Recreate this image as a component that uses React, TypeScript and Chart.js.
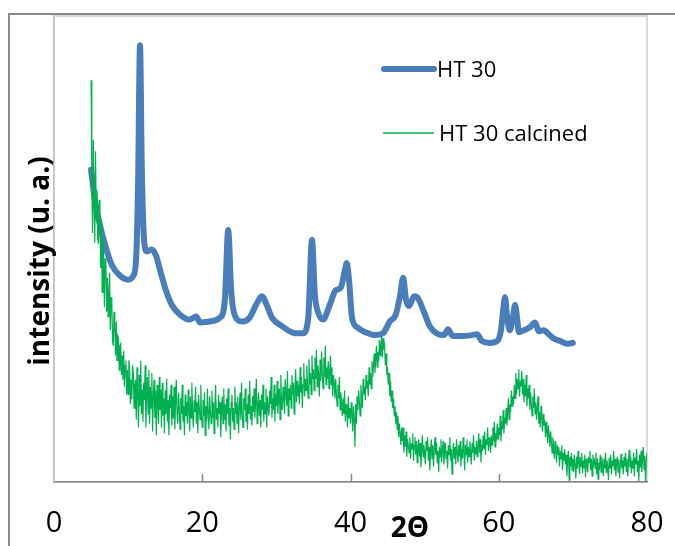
import React, { useEffect, useRef } from "react";
import { Chart, registerables } from "chart.js";

Chart.register(...registerables);

// ---- axis setup ----
const X_MIN = 0;
const X_MAX = 80;
const X_STEP = 20;
const Y_MIN = 0;
const Y_MAX = 4790;
const Y_STEP = 1000;

const Y_TITLE = "intensity (u. a.)";
const X_TITLE = "2Θ";
const LEGEND_LABELS = ["HT 30", "HT 30 calcined"];

// ---- HT 30 (blue) ----
const HT30_ANGLE = [
  5.0, 5.5, 6.2, 7.0, 7.8, 8.9, 10.0, 10.7, 11.1, 11.35,
  11.6, 11.85, 12.15, 12.55, 13.2, 13.8, 14.3, 15.1, 15.9, 17.0,
  18.3, 19.2, 19.7, 21.0, 22.4, 23.05, 23.5, 23.9, 24.4, 25.4,
  26.4, 27.25, 28.05, 28.7, 29.4, 30.8, 32.5, 33.6, 34.3, 34.8,
  35.2, 35.6, 36.3, 37.2, 38.0, 38.7, 39.25, 39.5, 39.8, 40.2,
  40.9, 42.0, 43.3, 44.4, 45.3, 46.1, 46.7, 47.1, 47.5, 47.9,
  48.6, 49.1, 49.9, 50.7, 51.8, 52.6, 53.15, 53.8, 55.0, 56.4,
  57.1, 57.7, 58.8, 59.8, 60.3, 60.6, 60.85, 61.1, 61.5, 61.9,
  62.2, 62.5, 62.7, 63.4, 64.2, 64.9, 65.4, 66.1, 66.6, 67.3,
  68.3, 69.2, 70.0,
];
const HT30_INTENSITY = [
  3210, 2900, 2640, 2410, 2230, 2120, 2080, 2120, 2330, 3100,
  4490, 3210, 2490, 2370, 2390, 2320, 2180, 1970, 1820, 1720,
  1670, 1700, 1640, 1650, 1690, 1870, 2590, 1970, 1710, 1650,
  1690, 1820, 1910, 1820, 1690, 1600, 1530, 1530, 1690, 2490,
  1920, 1750, 1670, 1820, 1970, 2000, 2180, 2250, 2080, 1690,
  1590, 1540, 1510, 1530, 1650, 1720, 1920, 2100, 1870, 1810,
  1910, 1890, 1750, 1600, 1520, 1510, 1570, 1500, 1500, 1510,
  1520, 1450, 1430, 1450, 1560, 1770, 1900, 1720, 1560, 1690,
  1820, 1670, 1540, 1560, 1590, 1640, 1550, 1560, 1530, 1480,
  1450, 1420, 1430,
];

// ---- HT 30 calcined (green), sampled every 0.1° from 5° (one row per degree) ----
const CAL_START = 5;
const CAL_STEP = 0.1;
const CAL_INTENSITY = [
  4130, 3200, 2560, 3520, 2900, 2460, 3400, 2700, 3000, 2500, // 5
  2450, 2900, 2660, 2200, 2700, 1950, 2500, 2350, 1800, 2300, // 6
  2250, 1750, 2100, 1700, 1950, 2150, 1560, 1900, 1850, 1450, // 7
  1400, 1750, 1600, 1300, 1650, 1250, 1500, 1480, 1150, 1400, // 8
  1420, 1100, 1300, 1050, 1350, 980, 1200, 1250, 900, 1150, // 9
  900, 1250, 1180, 800, 1050, 850, 1200, 1120, 760, 1000, // 10
  1050, 640, 1180, 880, 560, 1100, 780, 1250, 700, 950, // 11
  620, 1020, 840, 1200, 560, 900, 1080, 700, 1150, 600, // 12
  980, 760, 1120, 520, 880, 1050, 660, 940, 480, 1000, // 13
  820, 600, 1080, 740, 950, 560, 1020, 680, 860, 500, // 14
  940, 700, 1060, 620, 840, 480, 900, 760, 1000, 580, // 15
  880, 650, 980, 540, 820, 1050, 700, 600, 920, 760, // 16
  540, 860, 700, 1000, 620, 780, 480, 900, 680, 820, // 17
  600, 950, 740, 520, 880, 660, 1020, 700, 560, 840, // 18
  720, 980, 600, 820, 500, 900, 760, 640, 1000, 700, // 19
  560, 840, 680, 920, 480, 780, 620, 960, 700, 540, // 20
  880, 720, 600, 940, 660, 820, 500, 780, 1000, 640, // 21
  760, 560, 900, 700, 820, 460, 740, 880, 600, 960, // 22
  640, 800, 520, 860, 700, 960, 580, 760, 440, 820, // 23
  900, 620, 760, 540, 980, 700, 820, 600, 880, 500, // 24
  760, 920, 640, 1020, 700, 560, 860, 740, 960, 620, // 25
  800, 540, 900, 700, 1040, 640, 780, 580, 880, 720, // 26
  960, 660, 820, 1060, 600, 760, 920, 680, 840, 560, // 27
  900, 740, 1000, 620, 820, 700, 960, 560, 880, 760, // 28
  680, 940, 800, 1080, 660, 860, 740, 1000, 620, 900, // 29
  780, 1040, 700, 880, 960, 640, 1100, 820, 740, 980, // 30
  860, 700, 1060, 900, 780, 1140, 680, 960, 840, 1000, // 31
  760, 1100, 900, 1020, 700, 960, 1160, 820, 1040, 880, // 32
  1000, 800, 1180, 920, 1080, 760, 1000, 1220, 880, 1060, // 33
  940, 1200, 1020, 860, 1260, 1000, 1120, 900, 1300, 1060, // 34
  1160, 940, 1280, 1060, 1360, 980, 1200, 1100, 880, 1260, // 35
  1040, 1340, 1120, 960, 1280, 1080, 1400, 1000, 1180, 1060, // 36
  1240, 960, 1140, 1300, 1000, 1180, 880, 1100, 1020, 860, // 37
  1060, 900, 780, 1000, 860, 1080, 740, 920, 820, 680, // 38
  860, 700, 940, 620, 800, 740, 560, 880, 660, 760, // 39
  600, 820, 700, 520, 780, 660, 360, 800, 600, 880, // 40
  740, 940, 820, 680, 1000, 860, 760, 1060, 900, 980, // 41
  840, 1100, 960, 1040, 880, 1180, 1000, 1120, 960, 1240, // 42
  1080, 1200, 1320, 1120, 1260, 1400, 1180, 1340, 1240, 1460, // 43
  1300, 1420, 1500, 1280, 1480, 1360, 1400, 1200, 1320, 1100, // 44
  1180, 1000, 1120, 880, 1040, 820, 940, 760, 860, 680, // 45
  780, 600, 720, 540, 680, 460, 600, 500, 380, 560, // 46
  420, 560, 300, 480, 360, 520, 260, 440, 380, 300, // 47
  460, 240, 400, 340, 500, 220, 380, 460, 280, 420, // 48
  200, 360, 440, 260, 400, 150, 340, 480, 260, 380, // 49
  300, 180, 420, 320, 460, 220, 360, 120, 300, 440, // 50
  240, 380, 160, 340, 460, 280, 400, 200, 320, 100, // 51
  360, 260, 440, 200, 340, 420, 180, 300, 400, 240, // 52
  320, 140, 380, 280, 460, 220, 340, 80, 300, 400, // 53
  240, 360, 180, 440, 300, 200, 380, 260, 420, 160, // 54
  340, 240, 460, 300, 120, 380, 280, 440, 200, 360, // 55
  260, 420, 320, 180, 400, 300, 480, 220, 360, 280, // 56
  420, 260, 380, 500, 300, 440, 200, 380, 320, 480, // 57
  340, 520, 280, 440, 380, 560, 320, 460, 400, 300, // 58
  480, 380, 560, 420, 620, 360, 500, 460, 600, 440, // 59
  560, 480, 680, 420, 620, 540, 740, 500, 660, 600, // 60
  760, 580, 700, 860, 640, 800, 720, 940, 780, 880, // 61
  800, 1000, 860, 1120, 900, 1060, 960, 1160, 880, 1040, // 62
  980, 1140, 900, 1060, 820, 1000, 880, 1100, 780, 960, // 63
  860, 1000, 740, 920, 800, 680, 880, 760, 960, 700, // 64
  820, 640, 760, 880, 600, 720, 560, 780, 660, 520, // 65
  700, 580, 640, 460, 620, 520, 400, 580, 480, 360, // 66
  520, 420, 300, 460, 380, 240, 420, 320, 200, 380, // 67
  280, 360, 160, 320, 240, 380, 120, 300, 220, 340, // 68
  180, 280, 60, 240, 320, 20, 260, 160, 300, 120, // 69
  240, 100, 280, 180, 40, 260, 140, 320, 200, 80, // 70
  260, 160, 300, 90, 220, 140, 280, 50, 240, 180, // 71
  100, 260, 200, 320, 120, 240, 60, 280, 180, 220, // 72
  140, 300, 80, 240, 30, 200, 160, 280, 100, 260, // 73
  190, 60, 240, 140, 300, 100, 220, 160, 20, 250, // 74
  140, 280, 80, 220, 160, 320, 120, 240, 60, 200, // 75
  260, 100, 230, 40, 180, 290, 140, 220, 80, 260, // 76
  160, 300, 110, 240, 60, 200, 330, 150, 260, 90, // 77
  220, 140, 300, 60, 250, 180, 340, 100, 220, 10, // 78
  280, 150, 320, 100, 240, 360, 130, 270, 0, 220, // 79
  300, // 80
];

const BLUE = "#4a7ebb";
const GREEN = "#00b050";
const FONT = "'Open Sans', 'DejaVu Sans', sans-serif";

const decorPlugin = {
  id: "decor",
  beforeDraw(chart: any) {
    const { ctx, chartArea: a, width, height } = chart;
    ctx.save();
    // outer frame
    ctx.strokeStyle = "#8a8a8a";
    ctx.lineWidth = 2;
    ctx.beginPath();
    ctx.moveTo(9, height);
    ctx.lineTo(9, 14);
    ctx.lineTo(width, 14);
    ctx.stroke();
    // plot area frame
    ctx.strokeStyle = "#cdcdcd";
    ctx.lineWidth = 1.5;
    ctx.strokeRect(a.left, a.top, a.right - a.left, a.bottom - a.top);
    ctx.restore();
  },
  afterDraw(chart: any) {
    const { ctx, chartArea: a } = chart;
    const xs = chart.scales.x;
    const ys = chart.scales.y;
    ctx.save();
    // inward tick marks, y
    ctx.strokeStyle = "#bfbfbf";
    ctx.lineWidth = 1.5;
    ys.ticks.forEach((t: any) => {
      if (t.value <= Y_MIN || t.value % Y_STEP !== 0) return;
      const py = Math.round(ys.getPixelForValue(t.value)) + 0.5;
      ctx.beginPath();
      ctx.moveTo(a.left, py);
      ctx.lineTo(a.left + 8, py);
      ctx.stroke();
    });
    // inward tick marks, x
    ctx.strokeStyle = "#868686";
    xs.ticks.forEach((t: any) => {
      if (t.value <= X_MIN || t.value >= X_MAX) return;
      const px = Math.round(xs.getPixelForValue(t.value)) + 0.5;
      ctx.beginPath();
      ctx.moveTo(px, a.bottom);
      ctx.lineTo(px, a.bottom - 8);
      ctx.stroke();
    });
    // y title
    ctx.fillStyle = "#000";
    ctx.font = `bold 28px ${FONT}`;
    ctx.textAlign = "center";
    ctx.textBaseline = "middle";
    ctx.save();
    ctx.translate(41, (a.top + a.bottom) / 2 + 12);
    ctx.rotate(-Math.PI / 2);
    ctx.fillText(Y_TITLE, 0, 0);
    ctx.restore();
    // x title
    ctx.font = `bold 28px ${FONT}`;
    ctx.textAlign = "center";
    ctx.textBaseline = "middle";
    ctx.fillText(X_TITLE, 410, 529);
    // legend
    const lx0 = 384;
    const lx1 = 434;
    const ly = [69, 133];
    ctx.lineCap = "round";
    ctx.strokeStyle = BLUE;
    ctx.lineWidth = 6;
    ctx.beginPath();
    ctx.moveTo(lx0, ly[0]);
    ctx.lineTo(lx1, ly[0]);
    ctx.stroke();
    ctx.strokeStyle = GREEN;
    ctx.lineWidth = 1.5;
    ctx.lineCap = "butt";
    ctx.beginPath();
    ctx.moveTo(lx0 - 1, ly[1]);
    ctx.lineTo(lx1, ly[1]);
    ctx.stroke();
    ctx.fillStyle = "#000";
    ctx.font = `22px ${FONT}`;
    ctx.textAlign = "left";
    ctx.fillText(LEGEND_LABELS[0], 437, ly[0] + 2);
    ctx.fillText(LEGEND_LABELS[1], 439, ly[1] + 2);
    ctx.restore();
  },
};

export default function App() {
  const ref = useRef<HTMLCanvasElement | null>(null);

  useEffect(() => {
    if (!ref.current) return;
    const htData = HT30_ANGLE.map((x, i) => ({ x, y: HT30_INTENSITY[i] }));
    const calData = CAL_INTENSITY.map((y, i) => ({
      x: +(CAL_START + i * CAL_STEP).toFixed(2),
      y,
    }));
    const chart = new Chart(ref.current, {
      type: "line",
      data: {
        datasets: [
          {
            label: LEGEND_LABELS[0],
            data: htData,
            borderColor: BLUE,
            backgroundColor: BLUE,
            borderWidth: 6,
            pointRadius: 0,
            borderJoinStyle: "round",
            borderCapStyle: "round",
            cubicInterpolationMode: "monotone",
            order: 1,
          },
          {
            label: LEGEND_LABELS[1],
            data: calData,
            borderColor: GREEN,
            backgroundColor: GREEN,
            borderWidth: 1.2,
            pointRadius: 0,
            tension: 0,
            order: 0,
          },
        ],
      },
      options: {
        responsive: false,
        animation: false,
        devicePixelRatio: 1,
        layout: { padding: { left: 54, top: 16, right: 28, bottom: 0 } },
        plugins: {
          legend: { display: false },
          tooltip: { enabled: false },
          title: { display: false },
        },
        scales: {
          x: {
            type: "linear",
            min: X_MIN,
            max: X_MAX,
            ticks: {
              stepSize: X_STEP,
              color: "#000",
              font: { family: FONT, size: 29 },
              padding: 24,
              maxRotation: 0,
            },
            grid: { display: false, drawTicks: false },
            border: { display: true, color: "#868686", width: 1.5 },
            afterFit: (s: any) => {
              s.height = 64;
              s.paddingLeft = 0;
              s.paddingRight = 0;
            },
          },
          y: {
            type: "linear",
            min: Y_MIN,
            max: Y_MAX,
            ticks: { display: false, stepSize: Y_STEP },
            grid: { display: false, drawTicks: false },
            border: { display: true, color: "#bfbfbf", width: 1.5 },
            afterFit: (s: any) => {
              s.width = 0;
              s.paddingTop = 0;
              s.paddingBottom = 0;
            },
          },
        },
      },
      plugins: [decorPlugin],
    } as any);
    return () => chart.destroy();
  }, []);

  return (
    <div style={{ position: "absolute", left: 0, top: 0, width: 675, height: 546 }}>
      <canvas ref={ref} width={675} height={546} style={{ display: "block" }} />
    </div>
  );
}
